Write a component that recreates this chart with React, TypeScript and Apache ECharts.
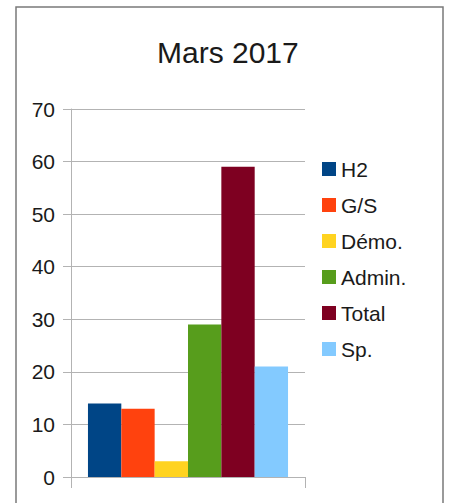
import React, { useEffect, useRef } from "react";
import * as echarts from "echarts";

const title = "Mars 2017";
const categories = [""];
const seriesNames = ["H2", "G/S", "Démo.", "Admin.", "Total", "Sp."];
const seriesValues = [14, 13, 3, 29, 59, 21];
const seriesColors = ["#004586", "#ff420e", "#ffd320", "#579d1c", "#7e0021", "#83caff"];
const yTicks = { min: 0, max: 70, interval: 10 };

export default function App() {
  const ref = useRef<HTMLDivElement>(null);
  useEffect(() => {
    const chart = echarts.init(ref.current!, null, { renderer: "svg" });
    const font = "'Liberation Sans', Arial, sans-serif";
    chart.setOption({
      animation: false,
      backgroundColor: "#ffffff",
      title: {
        text: title,
        left: 157,
        top: 37,
        padding: 0,
        textStyle: { fontFamily: font, fontSize: 30, fontWeight: "normal", color: "#1a1a1a" },
      },
      graphic: [
        {
          type: "rect",
          shape: { x: 16, y: 7, width: 427, height: 520 },
          style: { fill: "none", stroke: "#7a7a7a", lineWidth: 1.5 },
          z: 10,
        },
      ],
      legend: {
        orient: "vertical",
        left: 317,
        top: 153,
        itemWidth: 14,
        itemHeight: 14,
        itemGap: 14,
        icon: "rect",
        textStyle: { fontFamily: font, fontSize: 21, color: "#1a1a1a", lineHeight: 22 },
        data: seriesNames,
      },
      grid: { left: 71, right: 144, top: 109, bottom: 26 },
      xAxis: {
        type: "category",
        data: categories,
        boundaryGap: true,
        axisLine: { show: true, lineStyle: { color: "#b3b3b3", width: 1 } },
        axisTick: { show: true, length: 11, lineStyle: { color: "#b3b3b3" } },
        axisLabel: { show: false },
      },
      yAxis: {
        type: "value",
        min: yTicks.min,
        max: yTicks.max,
        interval: yTicks.interval,
        axisLine: { show: true, lineStyle: { color: "#b3b3b3", width: 1 } },
        axisTick: { show: true, length: 8, lineStyle: { color: "#b3b3b3" } },
        splitLine: { show: true, lineStyle: { color: "#b3b3b3", width: 1 } },
        axisLabel: { fontFamily: font, fontSize: 21, color: "#1a1a1a", margin: 16 },
      },
      series: seriesNames.map((name, i) => ({
        name,
        type: "bar",
        data: [seriesValues[i]],
        itemStyle: { color: seriesColors[i] },
        barGap: "0%",
        barCategoryGap: "14.5%",
      })),
    });
    return () => chart.dispose();
  }, []);
  return (
    <div
      ref={ref}
      style={{ position: "fixed", left: 0, top: 0, width: 449, height: 503 }}
    />
  );
}
